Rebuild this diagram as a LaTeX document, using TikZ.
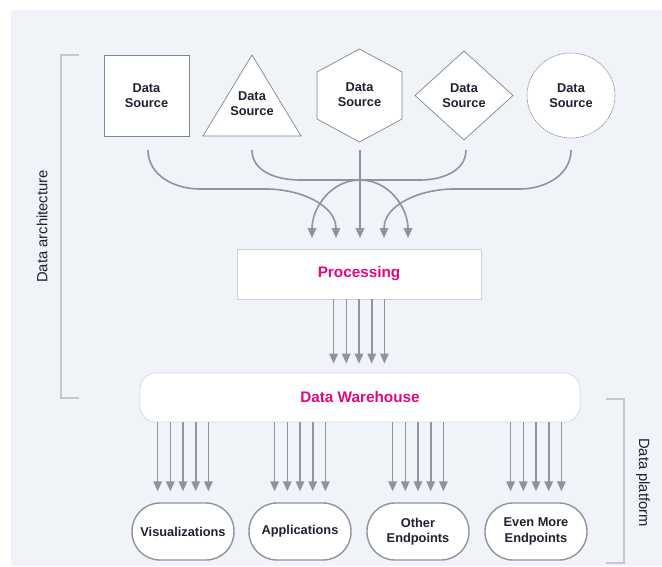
\documentclass[tikz,border=0pt]{standalone}
\usepackage{fontspec}
\setmainfont{Liberation Sans}
\usetikzlibrary{arrows.meta,calc}
\definecolor{bgc}{HTML}{F0F3F8}
\definecolor{txt}{HTML}{1E2230}
\definecolor{arr}{HTML}{8E949E}
\definecolor{mag}{HTML}{E2087F}
\definecolor{brk}{HTML}{C3C7CE}
\definecolor{edge}{HTML}{80858E}
\definecolor{pbord}{HTML}{CDD1D8}
\begin{document}
\begin{tikzpicture}[x=1pt,y=-1pt,
  lbl/.style={font=\fontsize{12.8}{15}\selectfont\bfseries, text=txt, align=center, inner sep=0pt},
  maglbl/.style={font=\fontsize{15.3}{17}\selectfont\bfseries, text=mag, align=center},
  side/.style={font=\fontsize{14.8}{16}\selectfont, text=txt, inner sep=0pt},
  conn/.style={draw=arr, line width=1.6pt, -{Triangle[width=8.5pt,length=10pt]}},
  shapeline/.style={draw=edge, line width=0.7pt, fill=white, line join=miter},
  endpt/.style={draw=arr, line width=1.4pt, fill=white, rounded corners=28pt,
     minimum width=102pt, minimum height=57pt, font=\fontsize{12.8}{15.5}\selectfont\bfseries, text=txt, align=center, inner sep=0pt},
  bracket/.style={draw=brk, line width=1.2pt}]
\useasboundingbox (0,0) rectangle (662,566);
\fill[bgc] (11,10) rectangle (662,566);

% brackets and side labels
\draw[bracket] (79,55) -- (61,55) -- (61,398) -- (79,398);
\draw[bracket] (606,399) -- (624,399) -- (624,563) -- (606,563);
\node[side, rotate=90] (arch) at (42,226.5) {Data architecture};
\node[side, rotate=-90] (plat) at (643,482.5) {Data platform};

% data sources
\draw[shapeline] (104,55) rectangle (189,136);
\node[lbl] (src1) at (146.5,96) {Data\\Source};
\draw[shapeline] (252,55) -- (301,136) -- (203,136) -- cycle;
\node[lbl] (src2) at (252,104) {Data\\Source};
\draw[shapeline] (359.5,49) -- (402,72) -- (402,119) -- (359.5,142) -- (317,119) -- (317,72) -- cycle;
\node[lbl] (src3) at (359.5,95) {Data\\Source};
\draw[shapeline] (464,51) -- (513,95.5) -- (464,140) -- (415,95.5) -- cycle;
\node[lbl] (src4) at (464,96) {Data\\Source};
\draw[draw=edge, line width=0.6pt, fill=white, dash pattern=on 1.5pt off 0.8pt] (571,95.5) ellipse [x radius=44, y radius=42.5];
\node[lbl] (src5) at (571,96) {Data\\Source};

% connector start and end points
\coordinate (o1) at (148,150);
\coordinate (o2) at (252,150);
\coordinate (o3) at (360,150);
\coordinate (o4) at (466,150);
\coordinate (o5) at (571,150);
\coordinate (i1) at (312,238);
\coordinate (i2) at (336,238);
\coordinate (i3) at (360,238);
\coordinate (i4) at (384,238);
\coordinate (i5) at (408,238);

\draw[conn] (o1) to[out=-90,in=180] (200,189) -- (266,189) to[out=0,in=90] (i2);
\draw[conn] (o5) to[out=-90,in=0] (520,189) -- (454,189) to[out=180,in=90] (i4);
\draw[conn] (o2) to[out=-90,in=180] (300,180) -- (360,180) to[out=0,in=90] (i5);
\draw[conn] (o4) to[out=-90,in=0] (420,180) -- (360,180) to[out=180,in=90] (i1);
\draw[conn] (o3) -- (i3);

% processing and warehouse
\node[draw=pbord, line width=0.8pt, fill=white, minimum width=244pt, minimum height=50pt, maglbl] (proc) at (359,274) {Processing};
\node[draw=pbord!80, line width=0.8pt, fill=white, rounded corners=16pt, minimum width=440pt, minimum height=49pt, maglbl] (wh) at (360,397.5) {Data Warehouse};

\foreach \d in {-25.4,-12.7,0,12.7,25.4}{
  \draw[conn, shorten >=9pt] ([xshift=\d pt]proc.south) -- ([xshift=\d pt]proc.south |- wh.north);
}

% endpoints
\node[endpt] (v) at (183,531.5) {Visualizations};
\node[endpt] (a) at (300,531.5) {Applications};
\node[endpt] (o) at (418,531.5) {Other\\Endpoints};
\node[endpt] (e) at (536,531.5) {Even More\\Endpoints};

\foreach \n in {v,a,o,e}{
  \foreach \d in {-25.4,-12.7,0,12.7,25.4}{
    \draw[conn, shorten >=11pt] ([xshift=\d pt]\n.north |- wh.south) -- ([xshift=\d pt]\n.north);
  }
}
\end{tikzpicture}
\end{document}
